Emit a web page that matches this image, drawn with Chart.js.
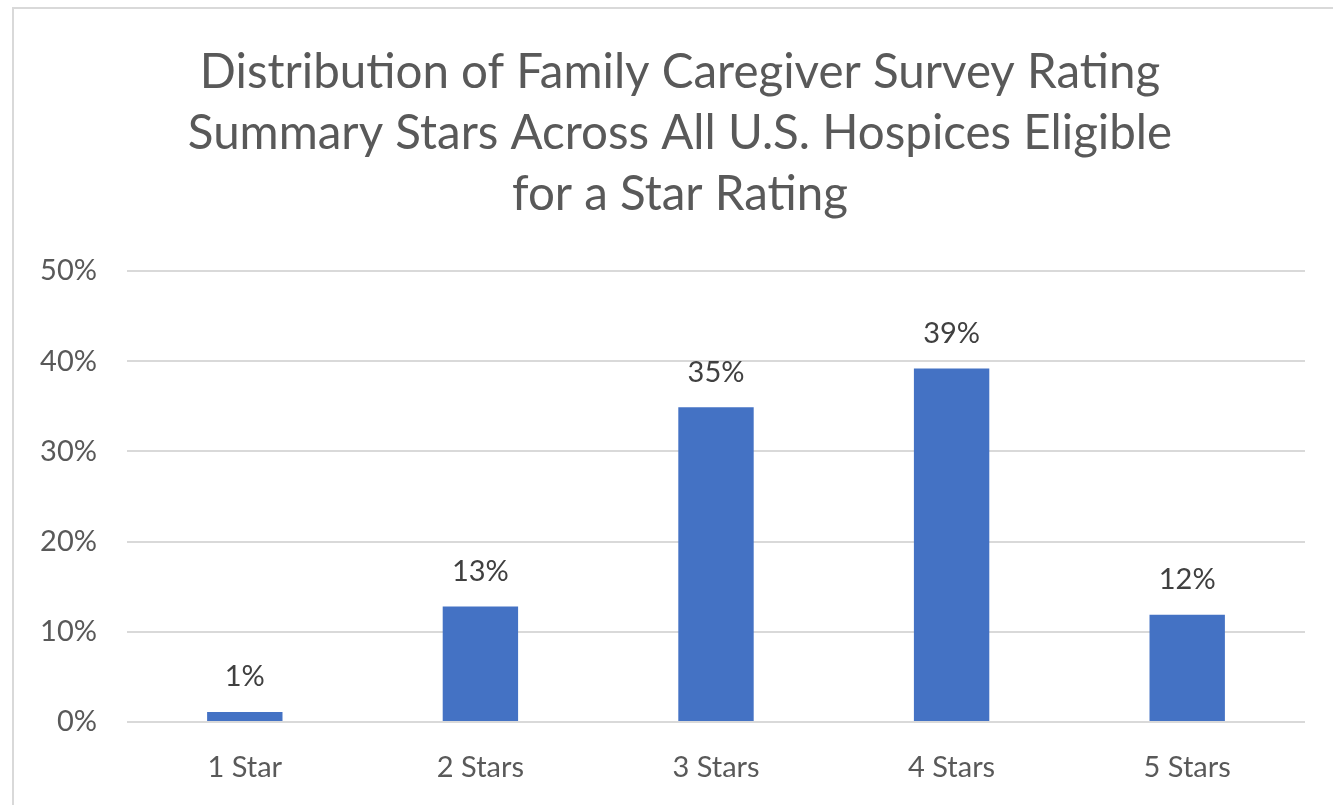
<!DOCTYPE html>
<html>
<head>
<meta charset="utf-8">
<script src="https://cdn.jsdelivr.net/npm/chart.js@4.4.1/dist/chart.umd.min.js"></script>
<style>
  body { margin: 0; background: #fff; width: 1333px; height: 805px; overflow: hidden; position: relative; }
  #box { position: absolute; left: 12px; top: 7px; width: 1330px; height: 810px; border: 2px solid #d9d9d9; box-sizing: border-box; }
  #wrap { position: absolute; left: 0; top: 0; width: 1319px; height: 796px; }
</style>
</head>
<body>
<div id="box"><div id="wrap"><canvas id="myChart"></canvas></div></div>
<script>
const categories = ['1 Star', '2 Stars', '3 Stars', '4 Stars', '5 Stars'];
const shares = [1.1, 12.8, 34.9, 39.2, 11.9];
const shareLabels = ['1%', '13%', '35%', '39%', '12%'];
const titleLines = [
    'Distribution of Family Caregiver Survey Rating',
    'Summary Stars Across All U.S. Hospices Eligible',
    'for a Star Rating'
];

// title drawn by hand so it can sit centred on the whole frame, not the plot
const chartTitle = {
    id: 'chartTitle',
    afterDraw(chart) {
        const ctx = chart.ctx;
        ctx.save();
        ctx.font = '47.5px Lato';
        ctx.fillStyle = '#595959';
        ctx.textAlign = 'center';
        ctx.textBaseline = 'middle';
        titleLines.forEach((line, i) => {
            ctx.fillText(line, 666, 64 + i * 61);
        });
        ctx.restore();
    }
};

// draws the percent labels above each bar
const barLabels = {
    id: 'barLabels',
    afterDatasetsDraw(chart) {
        const ctx = chart.ctx;
        const meta = chart.getDatasetMeta(0);
        ctx.save();
        ctx.font = '29px Lato';
        ctx.fillStyle = '#404040';
        ctx.textAlign = 'center';
        ctx.textBaseline = 'middle';
        meta.data.forEach((bar, i) => {
            ctx.fillText(shareLabels[i], bar.x, bar.y - 35);
        });
        ctx.restore();
    }
};

function showChart() {
    const data = {
        labels: categories,
        datasets: [{
            data: shares,
            backgroundColor: '#4472c4',
            categoryPercentage: 1,
            barPercentage: 0.32
        }]
    };

    new Chart(document.getElementById('myChart'), {
        type: 'bar',
        data: data,
        plugins: [barLabels, chartTitle],
        options: {
            responsive: true,
            maintainAspectRatio: false,
            animation: false,
            layout: { padding: { left: 0, right: 28, top: 262, bottom: 23 } },
            plugins: {
                legend: { display: false },
                tooltip: { enabled: false },
                title: { display: false }
            },
            scales: {
                x: {
                    afterFit(scale) { scale.height = 60; },
                    grid: { display: false, drawTicks: false },
                    border: { display: false },
                    ticks: { color: '#595959', font: { family: 'Lato', size: 29 }, padding: 28 }
                },
                y: {
                    min: 0,
                    max: 50,
                    afterFit(scale) { scale.width = 113; },
                    grid: { color: '#d9d9d9', lineWidth: 2, drawTicks: false },
                    border: { display: false },
                    ticks: {
                        stepSize: 10,
                        color: '#595959',
                        font: { family: 'Lato', size: 29 },
                        padding: 30,
                        callback: v => v + '%'
                    }
                }
            }
        }
    });
}

showChart();
</script>
</body>
</html>
